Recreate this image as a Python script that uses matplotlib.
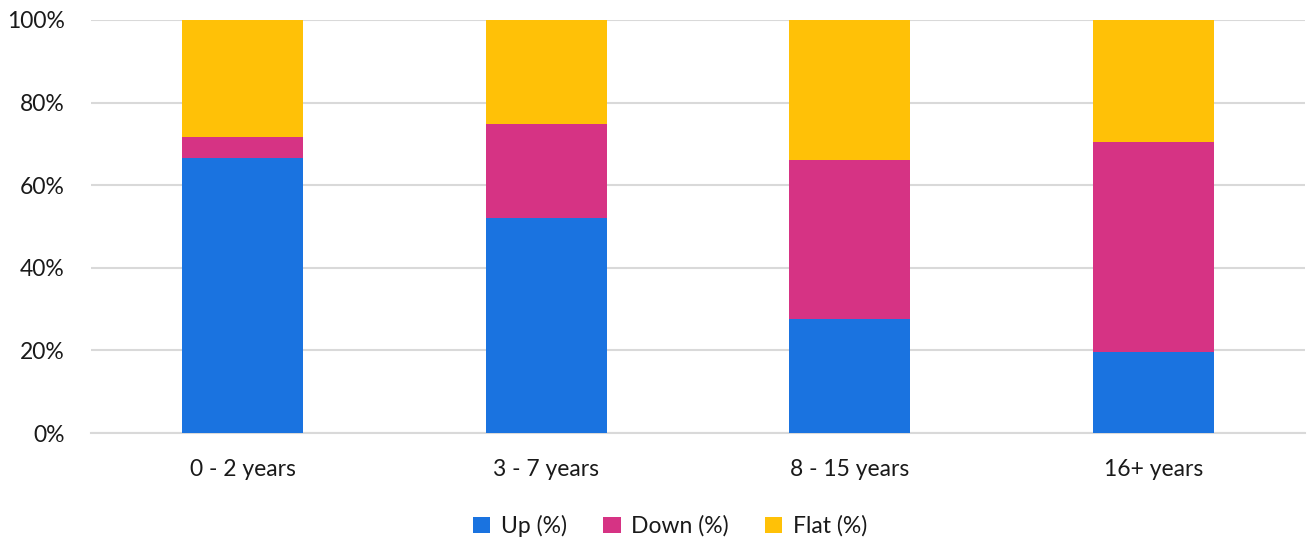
import matplotlib
matplotlib.use("Agg")
import matplotlib.pyplot as plt
import numpy as np

plt.rcParams['font.family'] = ['Lato', 'DejaVu Sans']

# data (percent)
categories = ['0 - 2 years', '3 - 7 years', '8 - 15 years', '16+ years']
up = [66.7, 52.0, 27.7, 19.5]
down = [4.9, 22.9, 38.4, 51.0]
flat = [100 - u - d for u, d in zip(up, down)]

series = [('Up (%)', up, '#1A73E0'),
          ('Down (%)', down, '#D63384'),
          ('Flat (%)', flat, '#FFC107')]

fig = plt.figure(figsize=(13.07, 5.42), dpi=100)
ax = fig.add_axes([91/1307, 109/542, 1214/1307, 413/542])

x = np.arange(len(categories))
bottom = np.zeros(len(categories))
for label, vals, color in series:
    ax.bar(x, vals, 0.4, bottom=bottom, color=color, label=label, zorder=3)
    bottom += np.array(vals)

ax.set_xlim(-0.5, len(categories) - 0.5)
ax.set_ylim(0, 100)
ax.set_yticks(range(0, 101, 20))
ax.set_yticklabels([f'{v}%' for v in range(0, 101, 20)])
ax.set_xticks(x)
ax.set_xticklabels(categories)
ax.tick_params(axis='both', length=0, labelsize=16.5, colors='#1a1a1a')
ax.tick_params(axis='x', pad=19)
ax.tick_params(axis='y', pad=19)

ax.grid(axis='y', color='#D9D9D9', linewidth=1.5, zorder=0)
for s in ['top', 'right', 'left']:
    ax.spines[s].set_visible(False)
ax.spines['bottom'].set_color('#D9D9D9')
ax.spines['bottom'].set_linewidth(1.5)

ax.legend(loc='center', bbox_to_anchor=(0.477, -0.225), ncol=3, frameon=False,
          fontsize=16.5, handlelength=0.75, handleheight=0.75, handletextpad=0.45,
          columnspacing=1.6, labelcolor='#1a1a1a')

fig.savefig('out.png', dpi=100)
